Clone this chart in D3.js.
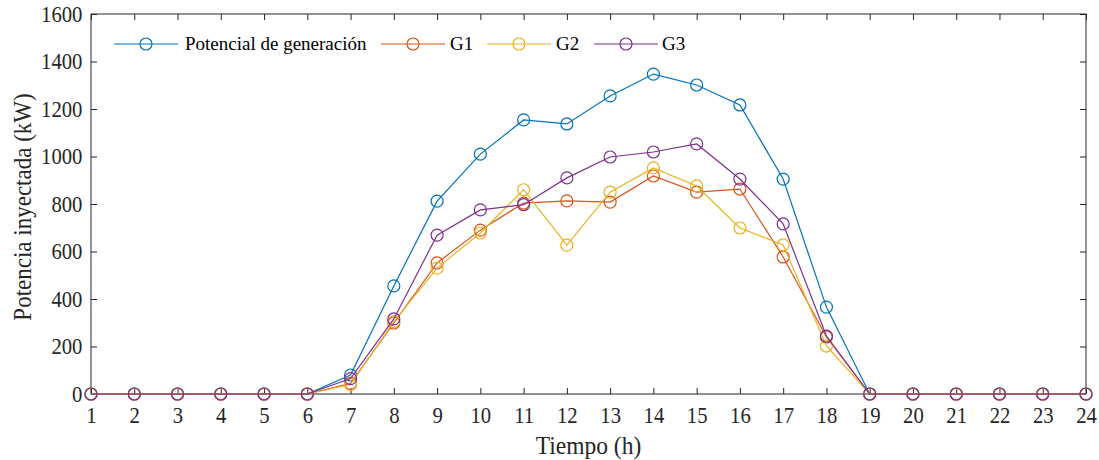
<!DOCTYPE html>
<html><head><meta charset="utf-8">
<script src="https://cdn.jsdelivr.net/npm/d3@7/dist/d3.min.js"></script>
<style>body{margin:0;background:#fff}svg{display:block}</style>
</head><body>
<svg id="c" width="1099" height="460"></svg>
<script>
const hours = d3.range(1, 25);
const potencial = [0,0,0,0,0,0,80,455,812,1010,1154,1137,1255,1347,1301,1217,905,366,0,0,0,0,0,0];
const g1 = [0,0,0,0,0,0,45,299,552,690,804,813,808,918,850,863,577,240,0,0,0,0,0,0];
const g2 = [0,0,0,0,0,0,40,305,530,678,860,627,850,952,876,699,628,202,0,0,0,0,0,0];
const g3 = [0,0,0,0,0,0,65,316,669,775,797,910,998,1019,1053,905,716,244,0,0,0,0,0,0];
const seriesNames = ["Potencial de generación","G1","G2","G3"];
const seriesColors = ["#0072BD","#D95319","#EDB120","#7E2F8E"];
const yTicks = [0,200,400,600,800,1000,1200,1400,1600];
const series = [potencial, g1, g2, g3];

const svg = d3.select("#c");
const L = 91, R = 1086, T = 14, B = 394;
const x = d3.scaleLinear().domain([1,24]).range([L,R]);
const y = d3.scaleLinear().domain([0,1600]).range([B,T]);
const axCol = "#262626";
const font = "'Liberation Serif','Times New Roman',serif";

svg.append("rect").attr("x",L).attr("y",T).attr("width",R-L).attr("height",B-T)
  .attr("fill","none").attr("stroke",axCol).attr("stroke-width",1);

function styleAxis(g){
  g.select(".domain").remove();
  g.selectAll("line").attr("stroke",axCol);
  g.selectAll("text").attr("fill",axCol).style("font-family",font).style("font-size","23px")
    .attr("transform","scale(0.9,1)");
}
svg.append("g").attr("transform",`translate(0,${B})`)
  .call(d3.axisBottom(x).tickValues(hours).tickFormat(d3.format("d")).tickSizeInner(-6).tickSizeOuter(0))
  .call(styleAxis)
  .call(g=>g.selectAll("text").attr("y",29).attr("dy",null));
svg.append("g").attr("transform",`translate(0,${T})`)
  .call(d3.axisTop(x).tickValues(hours).tickFormat("").tickSizeInner(-6).tickSizeOuter(0))
  .call(styleAxis);
svg.append("g").attr("transform",`translate(${L},0)`)
  .call(d3.axisLeft(y).tickValues(yTicks).tickFormat(d3.format("d")).tickSizeInner(-6).tickSizeOuter(0))
  .call(styleAxis)
  .call(g=>g.selectAll("text").attr("x",-9.5));
svg.append("g").attr("transform",`translate(${R},0)`)
  .call(d3.axisRight(y).tickValues(yTicks).tickFormat("").tickSizeInner(-6).tickSizeOuter(0))
  .call(styleAxis);

svg.append("text").attr("transform",`translate(${(L+R)/2},454) scale(0.94,1)`).attr("text-anchor","middle")
  .style("font-family",font).style("font-size","25px").attr("fill",axCol).text("Tiempo (h)");
svg.append("text").attr("transform",`translate(31,207) rotate(-90) scale(0.92,1)`).attr("text-anchor","middle")
  .style("font-family",font).style("font-size","25px").attr("fill",axCol).text("Potencia inyectada (kW)");

const line = d3.line().x((d,i)=>x(hours[i])).y(d=>y(d));
series.forEach((s,k)=>{
  const g = svg.append("g");
  g.append("path").datum(s).attr("d",line).attr("fill","none")
    .attr("stroke",seriesColors[k]).attr("stroke-width",1.2);
  g.selectAll("circle").data(s).join("circle")
    .attr("cx",(d,i)=>x(hours[i])).attr("cy",d=>y(d)).attr("r",6)
    .attr("fill","none").attr("stroke",seriesColors[k]).attr("stroke-width",1.2);
});

const legY = 44;
const legItems = [{x0:114,tx:185},{x0:381,tx:450},{x0:487,tx:556},{x0:594,tx:662}];
legItems.forEach((it,k)=>{
  const g = svg.append("g");
  g.append("line").attr("x1",it.x0).attr("x2",it.x0+64).attr("y1",legY).attr("y2",legY)
    .attr("stroke",seriesColors[k]).attr("stroke-width",1.2);
  g.append("circle").attr("cx",it.x0+32).attr("cy",legY).attr("r",6)
    .attr("fill","none").attr("stroke",seriesColors[k]).attr("stroke-width",1.2);
  g.append("text").attr("x",it.tx).attr("y",legY+6)
    .style("font-family",font).style("font-size","19px").attr("fill","#000").text(seriesNames[k]);
});
</script>
</body></html>
